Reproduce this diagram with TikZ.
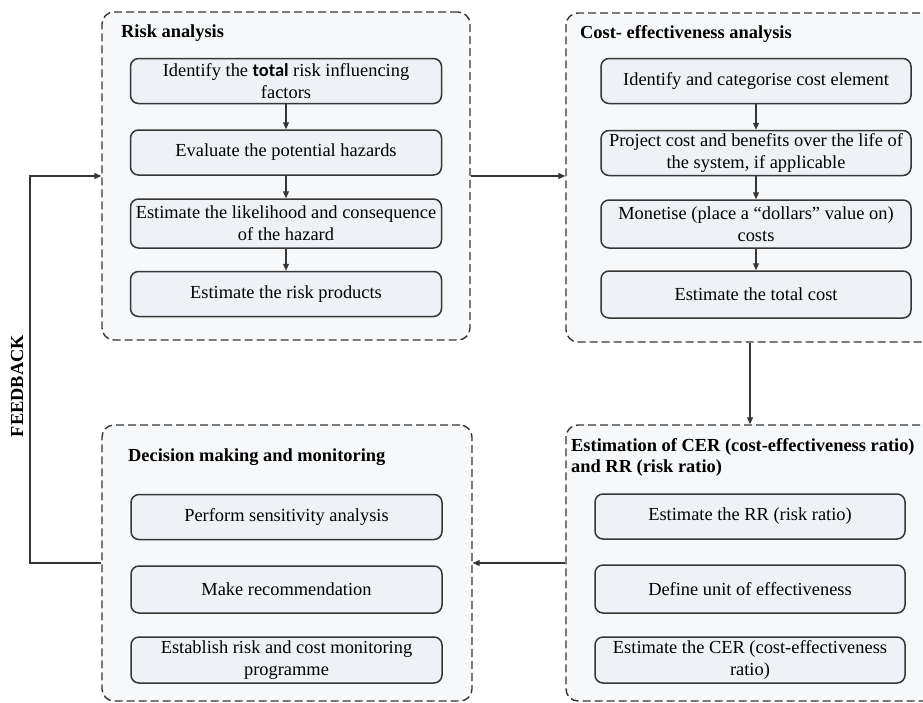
\documentclass[tikz,border=0pt]{standalone}
\usepackage{fontspec}
\setmainfont{Liberation Serif}
\newfontfamily\calfont{Carlito}
\usetikzlibrary{arrows.meta}
\definecolor{edge}{HTML}{363636}
\definecolor{outerfill}{HTML}{F6F8FA}
\definecolor{innerfill}{HTML}{EEF1F5}
\begin{document}
\begin{tikzpicture}[x=1pt,y=-1pt,
  group/.style={draw=edge, line width=1.4pt, dash pattern=on 8pt off 4pt, rounded corners=12pt, fill=outerfill, inner sep=0pt},
  stepbox/.style={draw=edge, line width=1.5pt, rounded corners=8pt, fill=innerfill, minimum width=311pt, minimum height=45pt, inner sep=1pt, align=center, font=\fontsize{18.4}{21.8}\selectfont},
  ttl/.style={anchor=west, font=\fontsize{18.4}{21}\selectfont\bfseries, inner sep=0pt, align=left},
  arr/.style={draw=edge, line width=1.2pt, -{Triangle[length=7pt,width=6pt]}},
]
\path[use as bounding box] (0,0) rectangle (923,702);
\clip (0,0) rectangle (923,702);

% group boxes
\node[group, minimum width=368pt, minimum height=328pt] (risk) at (286,176) {};
\node[group, minimum width=378pt, minimum height=329pt] (cost) at (755,177.5) {};
\node[group, minimum width=370pt, minimum height=276pt] (dec) at (287,563) {};
\node[group, minimum width=378pt, minimum height=276pt] (est) at (755,563) {};

% titles
\node[ttl] (rt) at (121,33) {Risk analysis};
\node[ttl] (ct) at (580,34) {Cost- effectiveness analysis};
\node[ttl] (dt) at (128,457) {Decision making and monitoring};
\node[ttl] (et) at (571,457) {Estimation of CER (cost-effectiveness ratio)\\and RR (risk ratio)};

% risk analysis steps
\node[stepbox] (r1) at (286,81) {Identify the {\calfont\bfseries total} risk influencing\\factors};
\node[stepbox] (r2) at (286,152.5) {Evaluate the potential hazards};
\node[stepbox, minimum height=49pt] (r3) at (286,223.5) {Estimate the likelihood and consequence\\of the hazard};
\node[stepbox] (r4) at (286,294) {Estimate the risk products};

% cost steps
\node[stepbox, minimum width=310pt] (c1) at (756,81) {Identify and categorise cost element};
\node[stepbox, minimum width=310pt] (c2) at (756,153) {Project cost and benefits over the life of\\the system, if applicable};
\node[stepbox, minimum width=310pt, minimum height=48pt] (c3) at (756,224) {Monetise (place a ``dollars'' value on)\\costs};
\node[stepbox, minimum width=310pt, minimum height=47pt] (c4) at (756,294.5) {Estimate the total cost};

% decision steps
\node[stepbox] (d1) at (286.5,517) {Perform sensitivity analysis};
\node[stepbox, minimum height=47pt] (d2) at (286.5,589.5) {Make recommendation};
\node[stepbox, minimum height=46pt] (d3) at (286.5,660) {Establish risk and cost monitoring\\programme};

% estimation steps
\node[stepbox, minimum width=310pt] (e1) at (750,516.5) {Estimate the RR (risk ratio)};
\node[stepbox, minimum width=310pt, minimum height=48pt] (e2) at (750,589) {Define unit of effectiveness};
\node[stepbox, minimum width=310pt, minimum height=46pt] (e3) at (750,660) {Estimate the CER (cost-effectiveness\\ratio)};

% arrows inside groups
\draw[arr] (r1) -- (r2);
\draw[arr] (r2) -- (r3);
\draw[arr] (r3) -- (r4);
\draw[arr] (c1) -- (c2);
\draw[arr] (c2) -- (c3);
\draw[arr] (c3) -- (c4);

% arrows between groups
\draw[arr] (risk.east) -- (risk.east -| cost.west);
\draw[arr] (e1.north |- cost.south) -- (e1.north |- est.north);
\draw[arr] (est.west) -- (est.west -| dec.east);

% feedback loop
\coordinate (fbx) at (30,0);
\draw[arr] (dec.west) -- (dec.west -| fbx) |- (risk.west);
\node[rotate=90, font=\fontsize{18.4}{21}\selectfont\bfseries, inner sep=0pt] (fb) at (17,386) {FEEDBACK};
\end{tikzpicture}
\end{document}
